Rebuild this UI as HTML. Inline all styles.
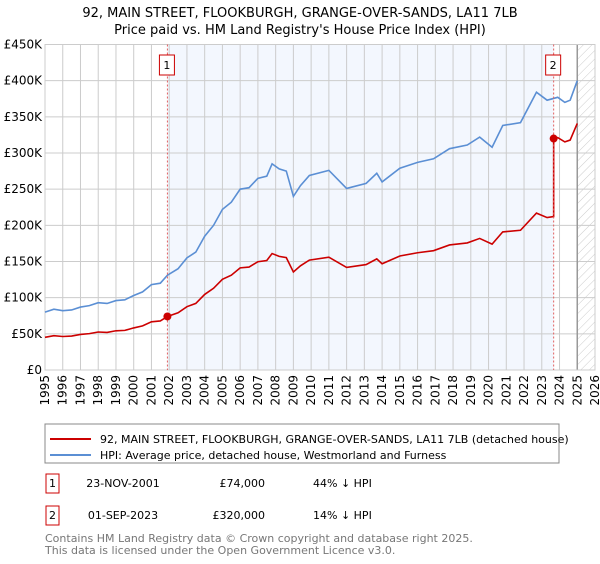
<!DOCTYPE html>
<html><head><meta charset="utf-8"><style>
body{margin:0;background:#fff;font-family:"DejaVu Sans","Liberation Sans",sans-serif;}
</style></head><body>
<svg id="chart" width="600" height="560" xmlns="http://www.w3.org/2000/svg" font-family="DejaVu Sans, Liberation Sans, sans-serif">
<text x="300" y="17" text-anchor="middle" font-size="13">92, MAIN STREET, FLOOKBURGH, GRANGE-OVER-SANDS, LA11 7LB</text>
<text x="300" y="34" text-anchor="middle" font-size="13">Price paid vs. HM Land Registry's House Price Index (HPI)</text>
<defs><pattern id="hatch" width="6" height="6" patternUnits="userSpaceOnUse" patternTransform="rotate(45)"><line x1="0" y1="0" x2="0" y2="6" stroke="#ccc" stroke-width="1"/></pattern></defs>
<g id="plot"></g>
<g>
<rect x="45" y="424" width="514" height="39" fill="#fff" stroke="#888"/>
<line x1="50" y1="439" x2="91" y2="439" stroke="#cc0000" stroke-width="2"/>
<text x="100" y="443" font-size="11">92, MAIN STREET, FLOOKBURGH, GRANGE-OVER-SANDS, LA11 7LB (detached house)</text>
<line x1="50" y1="455" x2="91" y2="455" stroke="#5b8fd4" stroke-width="2"/>
<text x="100" y="459" font-size="11">HPI: Average price, detached house, Westmorland and Furness</text>
</g>
<g font-size="11">
<rect x="46" y="474" width="13" height="19" fill="#fff" stroke="#cc0000"/>
<text x="52.5" y="487" text-anchor="middle">1</text>
<text x="123" y="487" text-anchor="middle">23-NOV-2001</text>
<text x="265" y="487" text-anchor="end">£74,000</text>
<text x="313" y="487">44% ↓ HPI</text>
<rect x="46" y="506" width="13" height="19" fill="#fff" stroke="#cc0000"/>
<text x="52.5" y="519" text-anchor="middle">2</text>
<text x="123" y="519" text-anchor="middle">01-SEP-2023</text>
<text x="265" y="519" text-anchor="end">£320,000</text>
<text x="313" y="519">14% ↓ HPI</text>
</g>
<g font-size="11" fill="#777">
<text x="45" y="542">Contains HM Land Registry data © Crown copyright and database right 2025.</text>
<text x="45" y="554">This data is licensed under the Open Government Licence v3.0.</text>
</g>
</svg>
<script>
const hpiYears=[1995,1995.5,1996,1996.5,1997,1997.5,1998,1998.5,1999,1999.5,2000,2000.5,2001,2001.5,2001.9,2002.5,2003,2003.5,2004,2004.5,2005,2005.5,2006,2006.5,2007,2007.5,2007.8,2008.2,2008.6,2009.0,2009.4,2009.9,2011.0,2012.0,2013.1,2013.7,2014.0,2015.0,2016.0,2016.9,2017.8,2018.8,2019.5,2020.2,2020.8,2021.8,2022.7,2023.3,2023.9,2024.3,2024.6,2025.0];
const hpiValues=[80,84,82,83,87,89,93,92,96,97,103,108,118,120,131,140,155,163,185,200,222,232,250,252,265,268,285,278,275,240,255,269,276,251,258,272,260,279,287,292,306,311,322,308,338,342,384,373,377,370,373,400];
const saleYears=[2001.9,2023.67];
const salePrices=[74,320];
const yTicks=[0,50,100,150,200,250,300,350,400,450];
const yTickLabels=["£0","£50K","£100K","£150K","£200K","£250K","£300K","£350K","£400K","£450K"];
const xTicks=[1995,1996,1997,1998,1999,2000,2001,2002,2003,2004,2005,2006,2007,2008,2009,2010,2011,2012,2013,2014,2015,2016,2017,2018,2019,2020,2021,2022,2023,2024,2025,2026];

const NS="http://www.w3.org/2000/svg";
const g=document.getElementById('plot');
const X0=45,X1=595,Y0=370,Y1=44.5;
const xs=y=>X0+(y-1995)/(2026-1995)*(X1-X0);
const ys=v=>Y0-v/450*(Y0-Y1);
function mk(t,a,p){const e=document.createElementNS(NS,t);for(const k in a)e.setAttribute(k,a[k]);(p||g).appendChild(e);return e;}
function hpiAt(y){for(let i=1;i<hpiYears.length;i++){if(y<=hpiYears[i]){const t=(y-hpiYears[i-1])/(hpiYears[i]-hpiYears[i-1]);return hpiValues[i-1]+t*(hpiValues[i]-hpiValues[i-1]);}}return hpiValues[hpiValues.length-1];}
const hatchStart=2025.0;
let e;
e=mk('rect',{x:xs(saleYears[0]),y:Y1,width:xs(saleYears[1])-xs(saleYears[0]),height:Y0-Y1,fill:'#eef3fd',opacity:0.7});


e=mk('rect',{x:xs(hatchStart),y:Y1,width:X1-xs(hatchStart),height:Y0-Y1,fill:'url(#hatch)'});


yTicks.forEach((v,i)=>{
 e=mk('line',{x1:X0,x2:X1,y1:ys(v),y2:ys(v),stroke:'#ccc','stroke-width':1});
 
 
 e=mk('text',{x:X0-3,y:ys(v)+4,'text-anchor':'end','font-size':12});
 e.textContent=yTickLabels[i];
 
 
});
xTicks.forEach(y=>{
 e=mk('line',{x1:xs(y),x2:xs(y),y1:Y1,y2:Y0,stroke:'#ccc','stroke-width':1});
 
 
 e=mk('text',{x:0,y:0,'text-anchor':'end','font-size':12,transform:`translate(${xs(y)+4},${Y0+5}) rotate(-90)`});
 e.textContent=y;
 
 
});
e=mk('line',{x1:xs(hatchStart),x2:xs(hatchStart),y1:Y1,y2:Y0,stroke:'#999','stroke-width':1.5});


e=mk('rect',{x:X0,y:Y1,width:X1-X0,height:Y0-Y1,fill:'none',stroke:'#ccc'});


e=mk('polyline',{points:hpiYears.map((y,i)=>xs(y)+','+ys(hpiValues[i])).join(' '),fill:'none',stroke:'#5b8fd4','stroke-width':1.6});


const r1=salePrices[0]/hpiAt(saleYears[0]), r2=salePrices[1]/hpiAt(saleYears[1]);
let pts=[];
hpiYears.forEach((y,i)=>{ if(y<saleYears[1]) pts.push([y,hpiValues[i]*r1]); });
pts.push([saleYears[1],hpiAt(saleYears[1])*r1]);
pts.push([saleYears[1],salePrices[1]]);
hpiYears.forEach((y,i)=>{ if(y>saleYears[1]) pts.push([y,hpiValues[i]*r2]); });
e=mk('polyline',{points:pts.map(p=>xs(p[0])+','+ys(p[1])).join(' '),fill:'none',stroke:'#cc0000','stroke-width':1.6});


saleYears.forEach((y,i)=>{
 e=mk('line',{x1:xs(y),x2:xs(y),y1:Y1,y2:Y0,stroke:'#e06060','stroke-width':1,'stroke-dasharray':'2,2'});
 
 
 e=mk('circle',{cx:xs(y),cy:ys(salePrices[i]),r:4,fill:'#cc0000'});
 
 
 e=mk('rect',{x:xs(y)-8,y:55,width:15,height:20,fill:'#fff',stroke:'#cc0000'});
 
 
 e=mk('text',{x:xs(y)-0.5,y:69,'text-anchor':'middle','font-size':11});
 e.textContent=String(i+1);
 
 
});
</script>
</body></html>
